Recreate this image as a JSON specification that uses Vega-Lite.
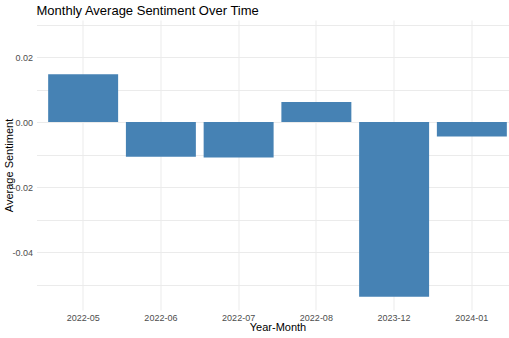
{
  "$schema": "https://vega.github.io/schema/vega-lite/v6.json",
  "autosize": {"type": "none"},
  "padding": {"left": 36.5, "top": 20, "right": 0, "bottom": 28},
  "width": 482,
  "height": 290,
  "background": "white",
  "title": {
    "text": "Monthly Average Sentiment Over Time",
    "anchor": "start",
    "frame": "group",
    "font": "Liberation Sans",
    "fontSize": 13,
    "fontWeight": "normal",
    "color": "#000000",
    "offset": 4,
    "baseline": "bottom",
    "dy": 15
  },
  "data": {
    "values": [
      {"month": "2022-05", "sentiment": 0.0147},
      {"month": "2022-06", "sentiment": -0.0107},
      {"month": "2022-07", "sentiment": -0.0109},
      {"month": "2022-08", "sentiment": 0.0062},
      {"month": "2023-12", "sentiment": -0.0537},
      {"month": "2024-01", "sentiment": -0.0044}
    ]
  },
  "mark": {"type": "bar", "color": "#4682B4"},
  "encoding": {
    "x": {
      "field": "month",
      "type": "nominal",
      "sort": null,
      "scale": {"paddingInner": 0.1, "paddingOuter": 0.15},
      "axis": {
        "title": "Year-Month",
        "labelAngle": 0,
        "bandPosition": 0.5,
        "grid": true,
        "gridColor": "#ebebeb",
        "gridWidth": 1,
        "ticks": false,
        "domain": false,
        "labelFont": "Liberation Sans",
        "labelFontSize": 9,
        "labelColor": "#4d4d4d",
        "labelPadding": 3,
        "titleFont": "Liberation Sans",
        "titleFontSize": 11,
        "titleFontWeight": "normal",
        "titleColor": "#000000",
        "titlePadding": -1
      }
    },
    "y": {
      "field": "sentiment",
      "type": "quantitative",
      "scale": {"domain": [-0.0578, 0.0314], "nice": false, "zero": false},
      "axis": {
        "title": "Average Sentiment",
        "titleX": -27,
        "titleY": 145,
        "titleBaseline": "middle",
        "titleAngle": -90,
        "titleAlign": "center",
        "values": [-0.05, -0.04, -0.03, -0.02, -0.01, 0, 0.01, 0.02, 0.03],
        "labelExpr": "abs(round(datum.value*100)) % 2 == 0 ? replace(format(datum.value, '.2f'), '\u2212', '-') : ''",
        "grid": true,
        "gridColor": "#ebebeb",
        "gridWidth": 1,
        "ticks": false,
        "domain": false,
        "labelFont": "Liberation Sans",
        "labelFontSize": 9,
        "labelColor": "#4d4d4d",
        "labelPadding": 4,
        "titleFont": "Liberation Sans",
        "titleFontSize": 11,
        "titleFontWeight": "normal",
        "titleColor": "#000000"
      }
    }
  },
  "config": {"view": {"stroke": null}}
}
